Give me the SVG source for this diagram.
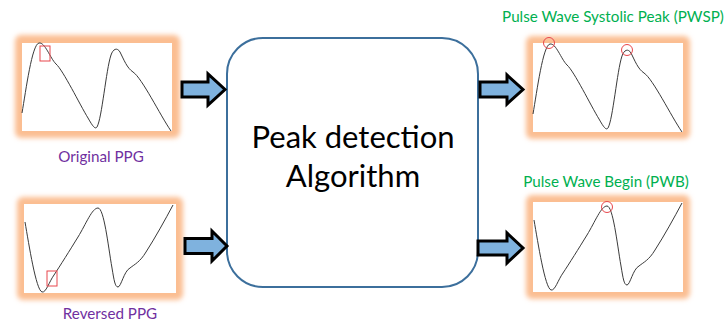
<svg xmlns="http://www.w3.org/2000/svg" width="725" height="327" viewBox="0 0 725 327">
<defs>
<style>
.glow{fill:#FBBE92;filter:url(#blur)}
.panel{fill:#ffffff}
.wave{fill:none;stroke:#3a3a3a;stroke-width:1}
.mark{fill:none;stroke:#E8474C;stroke-width:1}
.lbl-p{font-family:Lato,"Liberation Sans",sans-serif;font-size:15.2px;fill:#7030A0;text-anchor:middle}
.lbl-g{font-family:Lato,"Liberation Sans",sans-serif;font-size:15.2px;fill:#00B050;text-anchor:middle}
.big{font-family:Lato,"Liberation Sans",sans-serif;font-size:31px;fill:#000000;text-anchor:middle}
.arrow{fill:#7FB2DE;stroke:#000000;stroke-width:3;stroke-linejoin:miter}
</style>
<filter id="blur" x="-20%" y="-20%" width="140%" height="140%"><feGaussianBlur stdDeviation="2.5"/></filter>
<path id="w1" d="M22,113 C26,90 32,44 39,43 C45,42 50,58 56,64 C63,70 80,105 88,118 C92,125 95,130 97,127 C102,118 106,70 111,55 C113,49 117,47 120,52 C124,60 127,68 133,72 C142,78 160,115 171,131"/>
<path id="w2" d="M25,222 C29,245 36,290 42,292 C46,293 49,282 54,275 C60,266 70,250 78,237 C86,224 92,208 98,208 C104,208 108,245 112,268 C114,280 115,287 118,287 C121,287 124,271 130,268 C135,264 140,262 146,252 C155,238 165,220 173,205"/>
</defs>

<g id="original">
<rect class="glow" x="15" y="35" width="165" height="103" rx="6"/>
<rect class="panel" x="22" y="43" width="150" height="88"/>
<use href="#w1" class="wave"/>
<rect class="mark" x="40" y="46" width="10" height="15"/>
<text class="lbl-p" x="101" y="162">Original PPG</text>
</g>

<g id="reversed">
<rect class="glow" x="17" y="197" width="166" height="103" rx="6"/>
<rect class="panel" x="24" y="204" width="152" height="89"/>
<use href="#w2" class="wave"/>
<rect class="mark" x="47" y="271" width="10" height="15"/>
<text class="lbl-p" x="110" y="319">Reversed PPG</text>
</g>

<g id="algorithm">
<rect x="227" y="38" width="251" height="249" rx="36" fill="#ffffff" stroke="#3C6F9C" stroke-width="2"/>
<text class="big" x="353" y="148">Peak detection</text>
<text class="big" x="353" y="187">Algorithm</text>
</g>

<g id="pwsp">
<rect class="glow" x="526" y="36" width="164" height="103" rx="6"/>
<rect class="panel" x="533" y="43" width="150" height="89"/>
<use href="#w1" class="wave" transform="translate(511,1)"/>
<circle class="mark" cx="549" cy="43" r="5.5"/>
<circle class="mark" cx="627" cy="50" r="5.5"/>
<text class="lbl-g" x="613" y="22">Pulse Wave Systolic Peak (PWSP)</text>
</g>

<g id="pwb">
<rect class="glow" x="526" y="195" width="164" height="104" rx="6"/>
<rect class="panel" x="533" y="202" width="150" height="90"/>
<use href="#w2" class="wave" transform="translate(509,-2)"/>
<circle class="mark" cx="607" cy="207" r="5.5"/>
<text class="lbl-g" x="606" y="187">Pulse Wave Begin (PWB)</text>
</g>

<g id="connectors">
<path class="arrow" d="M182,82 H208 V74 L225,89.5 L208,105 V97 H182 Z"/>
<path class="arrow" d="M185,238.5 H212 V231 L227,246 L212,261 V253.5 H185 Z"/>
<path class="arrow" d="M480,82 H507 V75 L523,89.5 L507,104 V97 H480 Z"/>
<path class="arrow" d="M478,241 H507 V233 L523,248 L507,263 V255 H478 Z"/>
</g>
</svg>
